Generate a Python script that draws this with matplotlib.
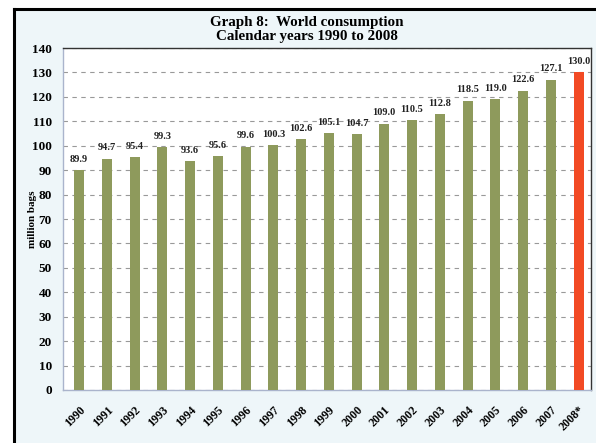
import matplotlib
matplotlib.use("Agg")
import matplotlib.pyplot as plt
from matplotlib.patches import Rectangle

years = ["1990", "1991", "1992", "1993", "1994", "1995", "1996", "1997", "1998", "1999",
         "2000", "2001", "2002", "2003", "2004", "2005", "2006", "2007", "2008*"]
consumption = [89.9, 94.7, 95.4, 99.3, 93.6, 95.6, 99.6, 100.3, 102.6, 105.1,
               104.7, 109.0, 110.5, 112.8, 118.5, 119.0, 122.6, 127.1, 130.0]
value_labels = ["89.9", "94.7", "95.4", "99.3", "93.6", "95.6", "99.6", "100.3", "102.6", "105.1",
                "104.7", "109.0", "110.5", "112.8", "118.5", "119.0", "122.6", "127.1", "130.0"]
yticks = [0, 10, 20, 30, 40, 50, 60, 70, 80, 90, 100, 110, 120, 130, 140]

plt.rcParams['font.family'] = ['Liberation Serif', 'DejaVu Serif']
W, H = 596, 443
fig = plt.figure(figsize=(W / 100, H / 100), dpi=100)
fig.patch.set_facecolor('white')

bg = '#eef6f9'
bgax = fig.add_axes([0, 0, 1, 1], zorder=-10)
bgax.set_xlim(0, W)
bgax.set_ylim(H, 0)
bgax.axis('off')
bgax.add_patch(Rectangle((14, 9), W - 14, H - 9, facecolor=bg, edgecolor='none'))
bgax.plot([14, 14], [H, 9], color='black', lw=2.2, solid_capstyle='projecting')
bgax.plot([14, W], [9, 9], color='black', lw=2.2, solid_capstyle='projecting')

left, right, top, bottom = 63, 591, 48, 390
ax = fig.add_axes([left / W, 1 - bottom / H, (right - left) / W, (bottom - top) / H], zorder=1)
ax.set_facecolor('white')

colors = ['#8e9a5c'] * (len(years) - 1) + ['#f24a24']
x = list(range(len(years)))
ax.bar(x, consumption, width=0.36, color=colors, zorder=3)

for xi, v, lab in zip(x, consumption, value_labels):
    ax.text(xi, v + 2.6, lab, ha='center', va='bottom', fontsize=7.5, fontweight='bold',
            color='#222222', zorder=4)

ax.set_xlim(-0.58, len(years) - 0.55)
ax.set_ylim(0, 140)
ax.set_yticks(yticks)
ax.yaxis.grid(True, linestyle=(0, (4, 4)), color='#999999', lw=0.8, zorder=1)
ax.set_axisbelow(True)
ax.tick_params(axis='both', length=0)
ax.set_yticklabels([str(t) for t in yticks], fontsize=9.5, fontweight='bold')
ax.set_xticks(x)
ax.set_xticklabels(years, rotation=45, ha='right', rotation_mode='anchor',
                   fontsize=8.5, fontweight='bold')
ax.tick_params(axis='x', pad=10)
ax.tick_params(axis='y', pad=8)
for s in ['left', 'bottom']:
    ax.spines[s].set_color('#aab4cc')
    ax.spines[s].set_linewidth(1.0)
for s in ['top', 'right']:
    ax.spines[s].set_color('#333333')
    ax.spines[s].set_linewidth(1.0)

ax.set_ylabel('million bags', fontsize=8, fontweight='bold')
ax.yaxis.set_label_coords(-0.05, 0.5)

fig.text(307 / W, 1 - 29.5 / H, 'Graph 8:  World consumption\nCalendar years 1990 to 2008',
         ha='center', va='center', fontsize=10.8, fontweight='bold', linespacing=1.15)

fig.savefig('out.png', dpi=100)
